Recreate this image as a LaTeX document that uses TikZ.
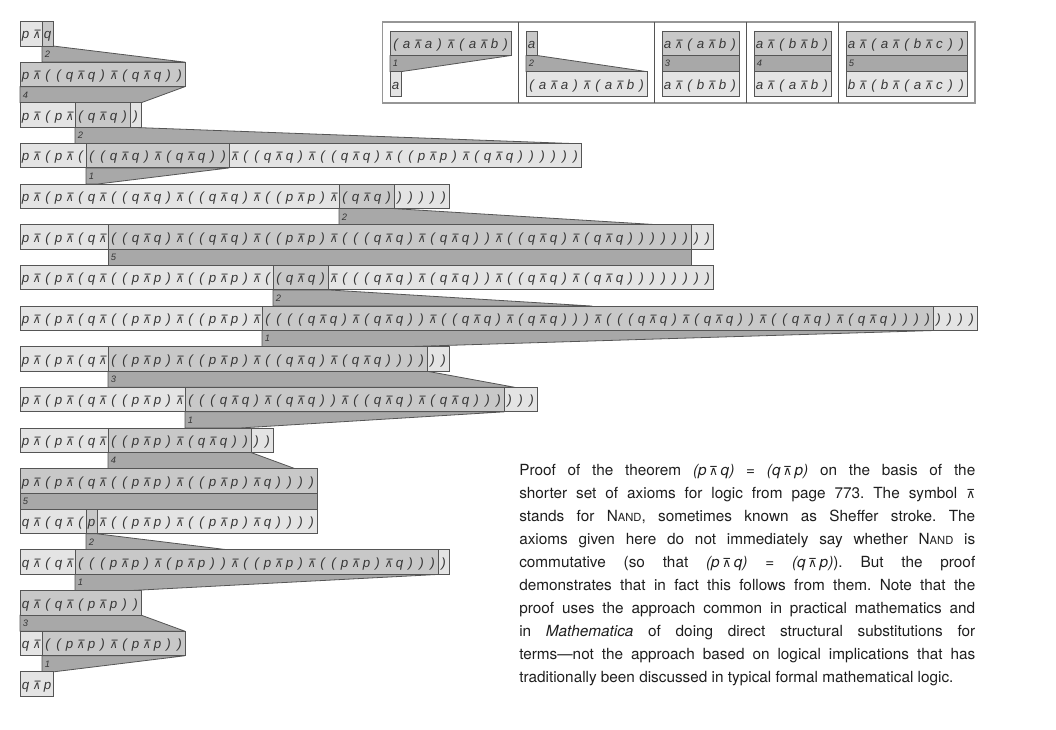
\documentclass[tikz,border=0pt]{standalone}
\usepackage{fontspec}
\setmainfont{TeX Gyre Heros}
\newfontfamily\exfont{Liberation Sans}
\newfontfamily\symfont{DejaVu Sans}
\definecolor{lightfill}{RGB}{228,228,228}
\definecolor{midfill}{RGB}{200,200,200}
\definecolor{bandfill}{RGB}{168,168,168}
\definecolor{edgecol}{RGB}{85,85,85}
\definecolor{extextcol}{RGB}{55,55,55}
\definecolor{captext}{RGB}{30,30,30}
\definecolor{framecol}{RGB}{150,150,150}

\newcommand\nandsym{⊼}
\newcount\cidx
\def\gobbleone#1{}
\def\firstone#1{#1}
\def\chloop#1{\ifx\relax#1\expandafter\gobbleone\else\expandafter\firstone\fi{\chput{#1}\chloop}}
\def\chput#1{\ifx N#1\let\chdo\nandput\else\let\chdo\plainput\fi\chdo{#1}\global\advance\cidx by 1\relax}
\def\plainput#1{\node[chr] (c\rowid-\the\cidx) at ({\rowx+11*\the\cidx+5.5},{\rowy}) {#1};}
\def\nandput#1{\node[nandch] (c\rowid-\the\cidx) at ({\rowx+11*\the\cidx+5.5},{\rowy}) {\nandsym};}
\newcommand\extext[4]{\def\rowid{#1}\def\rowx{#2}\def\rowy{#3+17.5}\global\cidx=0\relax\chloop#4\relax}

\newcommand\hlbox[5]{%
  \fill[lightfill] (#1,#2) rectangle ({#1+11*#3},{#2+24.5});
  \fill[midfill] ({#1+11*#4},#2) rectangle ({#1+11*#5},{#2+24.5});
  \draw[edgesty] ({#1+11*#4},#2) -- ({#1+11*#4},{#2+24.5}) ({#1+11*#5},#2) -- ({#1+11*#5},{#2+24.5});
  \draw[edgesty] (#1,#2) rectangle ({#1+11*#3},{#2+24.5});
}
\newcommand\plainbox[3]{%
  \fill[lightfill] (#1,#2) rectangle ({#1+11*#3},{#2+24.5});
  \draw[edgesty] (#1,#2) rectangle ({#1+11*#3},{#2+24.5});
}
\newcommand\band[7]{%
  \filldraw[bandsty] ({#2+11*#4},#3) -- ({#2+11*#5},#3) -- ({#2+11*#6},{#3+16.15}) -- ({#2+11*#4},{#3+16.15}) -- cycle;
  \node[lab] (lab#1) at ({#2+11*#4+2.5},{#3+8.2}) {#7};
}
\newcommand\nandsc{N{\fontsize{8.4}{9}\selectfont AND}}
\newcommand\capnand{{\symfont\fontsize{9.2}{10}\selectfont\nandsym}}
\newcommand\pqexp[2]{{\itshape(#1\,\capnand\,#2)}}

\tikzset{
  chr/.style={anchor=base, inner sep=0pt, text=extextcol, font=\exfont\itshape\fontsize{10}{12}\selectfont},
  nandch/.style={anchor=base, inner sep=0pt, text=extextcol, font=\symfont\fontsize{8.5}{10}\selectfont, xslant=0.15, transform shape},
  lab/.style={anchor=west, inner sep=0pt, text=extextcol, font=\exfont\itshape\fontsize{7}{8}\selectfont},
  edgesty/.style={draw=edgecol, line width=0.7pt},
  bandsty/.style={fill=bandfill, draw=edgecol, line width=0.6pt, line join=round},
  framesty/.style={draw=framecol, line width=1.2pt},
  divsty/.style={draw=edgecol, line width=0.7pt},
  caption/.style={text width=342pt, align=justify, inner sep=0pt, text=captext, font=\fontsize{11.5}{17.25}\selectfont}
}

\begin{document}
\begin{tikzpicture}[x=0.75pt,y=-0.75pt]
\useasboundingbox (0,0) rectangle (1056,730);

% ---------- axiom table ----------
\draw[framesty] (382.5,22) rectangle (975,103);
\foreach \dx in {518.5,654.5,746.5,838.5}{\draw[divsty] (\dx,22) -- (\dx,103);}

\band{a1}{390}{55.5}{0}{11}{1}{1}
\band{a2}{526}{55.5}{0}{1}{11}{2}
\band{a3}{662}{55.5}{0}{7}{7}{3}
\band{a4}{754}{55.5}{0}{7}{7}{4}
\band{a5}{846}{55.5}{0}{11}{11}{5}

\hlbox{390}{31}{11}{0}{11}
\plainbox{390}{71.65}{1}
\hlbox{526}{31}{1}{0}{1}
\plainbox{526}{71.65}{11}
\hlbox{662}{31}{7}{0}{7}
\plainbox{662}{71.65}{7}
\hlbox{754}{31}{7}{0}{7}
\plainbox{754}{71.65}{7}
\hlbox{846}{31}{11}{0}{11}
\plainbox{846}{71.65}{11}

\extext{a1t}{390}{31}{(aNa)N(aNb)}
\extext{a1b}{390}{71.65}{a}
\extext{a2t}{526}{31}{a}
\extext{a2b}{526}{71.65}{(aNa)N(aNb)}
\extext{a3t}{662}{31}{aN(aNb)}
\extext{a3b}{662}{71.65}{aN(bNb)}
\extext{a4t}{754}{31}{aN(bNb)}
\extext{a4b}{754}{71.65}{aN(aNb)}
\extext{a5t}{846}{31}{aN(aN(bNc))}
\extext{a5b}{846}{71.65}{bN(bN(aNc))}

% ---------- proof bands ----------
\band{m1}{20}{46}{2}{3}{15}{2}
\band{m2}{20}{86.65}{0}{15}{11}{4}
\band{m3}{20}{127.3}{5}{10}{50}{2}
\band{m4}{20}{167.95}{6}{19}{7}{1}
\band{m5}{20}{208.6}{29}{34}{58}{2}
\band{m6}{20}{249.25}{8}{61}{61}{5}
\band{m7}{20}{289.9}{23}{28}{52}{2}
\band{m8}{20}{330.55}{22}{83}{35}{1}
\band{m9}{20}{371.2}{8}{37}{45}{3}
\band{m10}{20}{411.85}{15}{44}{20}{1}
\band{m11}{20}{452.5}{8}{21}{25}{4}
\band{m12}{20}{493.15}{0}{27}{27}{5}
\band{m13}{20}{533.8}{6}{7}{19}{2}
\band{m14}{20}{574.45}{5}{38}{10}{1}
\band{m15}{20}{615.1}{0}{11}{15}{3}
\band{m16}{20}{655.75}{2}{15}{3}{1}

% ---------- proof rows ----------
\hlbox{20}{21.5}{3}{2}{3}
\hlbox{20}{62.15}{15}{0}{15}
\hlbox{20}{102.8}{11}{5}{10}
\hlbox{20}{143.45}{51}{6}{19}
\hlbox{20}{184.1}{39}{29}{34}
\hlbox{20}{224.75}{63}{8}{61}
\hlbox{20}{265.4}{63}{23}{28}
\hlbox{20}{306.05}{87}{22}{83}
\hlbox{20}{346.7}{39}{8}{37}
\hlbox{20}{387.35}{47}{15}{44}
\hlbox{20}{428}{23}{8}{21}
\hlbox{20}{468.65}{27}{0}{27}
\hlbox{20}{509.3}{27}{6}{7}
\hlbox{20}{549.95}{39}{5}{38}
\hlbox{20}{590.6}{11}{0}{11}
\hlbox{20}{631.25}{15}{2}{15}
\plainbox{20}{671.9}{3}

\extext{r1}{20}{21.5}{pNq}
\extext{r2}{20}{62.15}{pN((qNq)N(qNq))}
\extext{r3}{20}{102.8}{pN(pN(qNq))}
\extext{r4}{20}{143.45}{pN(pN(((qNq)N(qNq))N((qNq)N((qNq)N((pNp)N(qNq))))))}
\extext{r5}{20}{184.1}{pN(pN(qN((qNq)N((qNq)N((pNp)N(qNq))))))}
\extext{r6}{20}{224.75}{pN(pN(qN((qNq)N((qNq)N((pNp)N(((qNq)N(qNq))N((qNq)N(qNq))))))))}
\extext{r7}{20}{265.4}{pN(pN(qN((pNp)N((pNp)N((qNq)N(((qNq)N(qNq))N((qNq)N(qNq))))))))}
\extext{r8}{20}{306.05}{pN(pN(qN((pNp)N((pNp)N((((qNq)N(qNq))N((qNq)N(qNq)))N(((qNq)N(qNq))N((qNq)N(qNq))))))))}
\extext{r9}{20}{346.7}{pN(pN(qN((pNp)N((pNp)N((qNq)N(qNq))))))}
\extext{r10}{20}{387.35}{pN(pN(qN((pNp)N(((qNq)N(qNq))N((qNq)N(qNq))))))}
\extext{r11}{20}{428}{pN(pN(qN((pNp)N(qNq))))}
\extext{r12}{20}{468.65}{pN(pN(qN((pNp)N((pNp)Nq))))}
\extext{r13}{20}{509.3}{qN(qN(pN((pNp)N((pNp)Nq))))}
\extext{r14}{20}{549.95}{qN(qN(((pNp)N(pNp))N((pNp)N((pNp)Nq))))}
\extext{r15}{20}{590.6}{qN(qN(pNp))}
\extext{r16}{20}{631.25}{qN((pNp)N(pNp))}
\extext{r17}{20}{671.9}{qNp}

% ---------- caption ----------
\node[caption, anchor=base west] (cap) at (519,475) {\frenchspacing\parfillskip=0pt
Proof of the theorem \pqexp{p}{q} = \pqexp{q}{p} on the basis of the\linebreak
shorter set of axioms for logic from page 773. The symbol \capnand\linebreak
stands for \nandsc, sometimes known as Sheffer stroke. The\linebreak
axioms given here do not immediately say whether \nandsc\ is\linebreak
commutative (so that \pqexp{p}{q} = \pqexp{q}{p}). But the proof\linebreak
demonstrates that in fact this follows from them. Note that the\linebreak
proof uses the approach common in practical mathematics and\linebreak
in \textit{Mathematica} of doing direct structural substitutions for\linebreak
terms—not the approach based on logical implications that has\linebreak
traditionally been discussed in typical formal mathematical logic.};
\end{tikzpicture}
\end{document}
